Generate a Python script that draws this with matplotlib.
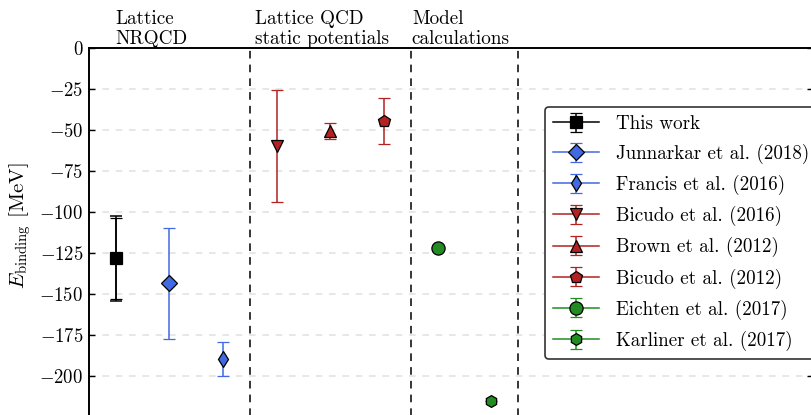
import numpy as np
import matplotlib
matplotlib.use('Agg')
import matplotlib.pyplot as plt
from matplotlib.ticker import FuncFormatter

plt.rcParams['font.family'] = 'serif'
plt.rcParams['font.serif'] = ['cmr10']
plt.rcParams['mathtext.fontset'] = 'cm'
plt.rcParams['axes.formatter.use_mathtext'] = True
plt.rcParams['axes.unicode_minus'] = True

# data
labels = ['This work', 'Junnarkar et al. (2018)', 'Francis et al. (2016)',
          'Bicudo et al. (2016)', 'Brown et al. (2012)', 'Bicudo et al. (2012)',
          'Eichten et al. (2017)', 'Karliner et al. (2017)']
x_pos = [1, 2, 3, 4, 5, 6, 7, 8]
values = [-128, -143.3, -189.5, -59.6, -50.4, -44.3, -121.8, -215]
err_lo = [25.0, 34.0, 10.3, 34.0, 4.9, 14.2, 0, 0]
err_up = [24.3, 33.5, 10.3, 34.0, 4.9, 13.6, 0, 0]
# second (total) error on this work
extra_lo = 26.3
extra_up = 25.6

markers = ['s', 'D', 'd', 'v', '^', 'p', 'o', 'h']
msizes = [9, 8.5, 8, 9, 9, 9, 9.5, 8.5]
black = 'black'
blue = '#4169E1'
red = '#B22222'
green = '#228B22'
colors = [black, blue, blue, red, red, red, green, green]

dividers = [3.5, 6.5, 8.5]
group_names = ['Lattice\nNRQCD', 'Lattice QCD\nstatic potentials', 'Model\ncalculations']
group_x = [1.0, 3.6, 6.52]
yticks = [0, -25, -50, -75, -100, -125, -150, -175, -200]

fig = plt.figure(figsize=(8.11, 4.15), dpi=100)
ax = fig.add_axes([89 / 811, 1 - 48 / 415 - 377.2 / 415, 724 / 811, 377.2 / 415])

for yt in yticks[1:]:
    ax.axhline(yt, color='#e3e3e3', lw=1.2, ls=(0, (4, 4)), zorder=0)
for d in dividers:
    ax.axvline(d, color='black', lw=1.1, ls=(0, (5, 4)), zorder=1)

for i in range(len(labels)):
    if i == 0:
        ax.errorbar(x_pos[i], values[i], yerr=[[extra_lo], [extra_up]],
                    color=colors[i], capsize=4.5, elinewidth=1.1, capthick=1.1,
                    fmt='none', zorder=2)
    ax.errorbar(x_pos[i], values[i], yerr=[[err_lo[i]], [err_up[i]]],
                marker=markers[i], ms=msizes[i], color=colors[i],
                mfc=colors[i], mec='black', mew=0.9, lw=1.1,
                capsize=4.5, elinewidth=1.1, capthick=1.1,
                label=labels[i], zorder=3)

for gx, name in zip(group_x, group_names):
    ax.text(gx, 1.0, name, transform=ax.get_xaxis_transform(), ha='left',
            va='bottom', fontsize=13.8, linespacing=1.12)

ax.set_xlim(0.5, 14)
ax.set_ylim(-230, 0)
ax.set_xticks([])
ax.set_yticks(yticks)
ax.yaxis.set_major_formatter(FuncFormatter(lambda v, p: r'$%d$' % v))
ax.tick_params(axis='y', direction='in', length=4, width=1, right=True,
               labelsize=13.5, pad=4)
for s in ax.spines.values():
    s.set_linewidth(1.4)
ax.set_ylabel(r'$E_\mathrm{binding}$ [MeV]', fontsize=15)
ax.yaxis.set_label_coords(-0.077, 0.528)

leg = ax.legend(loc='center left', bbox_to_anchor=(0.63, 0.51), fontsize=13.7,
                frameon=True, fancybox=True, framealpha=1, edgecolor='0.2',
                handlelength=2.4, handletextpad=0.88, labelspacing=0.58,
                borderpad=0.42, borderaxespad=0)
leg.get_frame().set_linewidth(1.2)

fig.savefig('out.png', dpi=100)
